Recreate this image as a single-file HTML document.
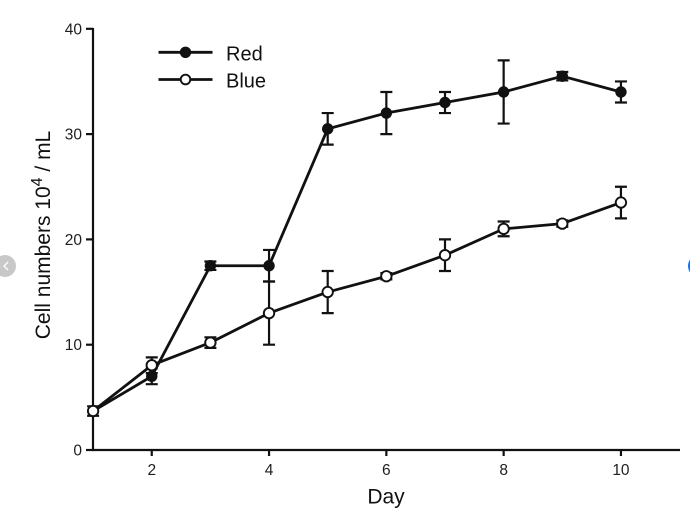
<!DOCTYPE html>
<html><head><meta charset="utf-8"><style>
html,body{margin:0;padding:0;background:#fff;}
svg{display:block;}
text{font-family:"Liberation Sans",Arial,sans-serif;}
</style></head><body>
<svg width="690" height="515" viewBox="0 0 690 515" xmlns="http://www.w3.org/2000/svg">
<rect width="690" height="515" fill="#fff"/>
<!-- UI artifacts -->
<circle cx="5" cy="266" r="11" fill="#c8c8c8"/>
<path d="M8 262 L4 266 L8 270" stroke="#fff" stroke-width="1.3" fill="none"/>
<circle cx="699" cy="266" r="11" fill="#1a73e8"/>

<!-- axes -->
<g stroke="#111" stroke-width="2.2" fill="none">
<line x1="93" y1="28" x2="93" y2="451"/>
<line x1="92" y1="450" x2="680" y2="450"/>
<line x1="86" y1="450" x2="93" y2="450"/>
<line x1="86" y1="344.7" x2="93" y2="344.7"/>
<line x1="86" y1="239.4" x2="93" y2="239.4"/>
<line x1="86" y1="134.1" x2="93" y2="134.1"/>
<line x1="86" y1="28.8" x2="93" y2="28.8"/>
<line x1="151.75" y1="450" x2="151.75" y2="456"/>
<line x1="269.05" y1="450" x2="269.05" y2="456"/>
<line x1="386.35" y1="450" x2="386.35" y2="456"/>
<line x1="503.65" y1="450" x2="503.65" y2="456"/>
<line x1="620.95" y1="450" x2="620.95" y2="456"/>
</g>
<g font-size="15.5" fill="#1e1e1e" text-anchor="end">
<text x="82" y="455.5">0</text>
<text x="82" y="350.2">10</text>
<text x="82" y="244.9">20</text>
<text x="82" y="139.6">30</text>
<text x="82" y="34.3">40</text>
</g>
<g font-size="15.5" fill="#1e1e1e" text-anchor="middle">
<text x="151.75" y="475">2</text>
<text x="269.05" y="475">4</text>
<text x="386.35" y="475">6</text>
<text x="503.65" y="475">8</text>
<text x="620.95" y="475">10</text>
</g>
<text x="386" y="503.5" font-size="21" fill="#111" text-anchor="middle">Day</text>
<text transform="translate(50,235) rotate(-90)" font-size="21" fill="#111" text-anchor="middle">Cell numbers 10<tspan font-size="16" dy="-8">4</tspan><tspan dy="8"> / mL</tspan></text>

<!-- Red series -->
<g stroke="#111" stroke-width="2.2" fill="none">
<path d="M93.1 406.3V415.8M87.1 406.3H99.1M87.1 415.8H99.1"/>
<path d="M151.75 368.39V384.19M145.75 368.39H157.75M145.75 384.19H157.75"/>
<path d="M210.4 261.51V269.94M204.4 261.51H216.4M204.4 269.94H216.4"/>
<path d="M269.05 249.93V281.52M263.05 249.93H275.05M263.05 281.52H275.05"/>
<path d="M327.7 113.04V144.63M321.7 113.04H333.7M321.7 144.63H333.7"/>
<path d="M386.35 91.98V134.1M380.35 91.98H392.35M380.35 134.1H392.35"/>
<path d="M445 91.98V113.04M439 91.98H451M439 113.04H451"/>
<path d="M503.65 60.39V123.57M497.65 60.39H509.65M497.65 123.57H509.65"/>
<path d="M562.3 71.97V80.4M556.3 71.97H568.3M556.3 80.4H568.3"/>
<path d="M620.95 81.45V102.51M614.95 81.45H626.95M614.95 102.51H626.95"/>
</g>
<polyline fill="none" stroke="#111" stroke-width="2.8" stroke-linejoin="round" points="93.1,411.04 151.75,376.29 210.4,265.73 269.05,265.73 327.7,128.84 386.35,113.04 445,102.51 503.65,91.98 562.3,76.19 620.95,91.98"/>
<g fill="#111">
<circle cx="93.1" cy="411.04" r="5.7"/>
<circle cx="151.75" cy="376.29" r="5.7"/>
<circle cx="210.4" cy="265.73" r="5.7"/>
<circle cx="269.05" cy="265.73" r="5.7"/>
<circle cx="327.7" cy="128.84" r="5.7"/>
<circle cx="386.35" cy="113.04" r="5.7"/>
<circle cx="445" cy="102.51" r="5.7"/>
<circle cx="503.65" cy="91.98" r="5.7"/>
<circle cx="562.3" cy="76.19" r="5.7"/>
<circle cx="620.95" cy="91.98" r="5.7"/>
</g>

<!-- Blue series -->
<g stroke="#111" stroke-width="2.2" fill="none">
<path d="M151.75 357.34V373.13M145.75 357.34H157.75M145.75 373.13H157.75"/>
<path d="M210.4 337.33V347.86M204.4 337.33H216.4M204.4 347.86H216.4"/>
<path d="M269.05 281.52V344.7M263.05 281.52H275.05M263.05 344.7H275.05"/>
<path d="M327.7 270.99V313.11M321.7 270.99H333.7M321.7 313.11H333.7"/>
<path d="M386.35 273.1V279.41M380.35 273.1H392.35M380.35 279.41H392.35"/>
<path d="M445 239.4V270.99M439 239.4H451M439 270.99H451"/>
<path d="M503.65 221.5V236.24M497.65 221.5H509.65M497.65 236.24H509.65"/>
<path d="M562.3 220.45V226.76M556.3 220.45H568.3M556.3 226.76H568.3"/>
<path d="M620.95 186.75V218.34M614.95 186.75H626.95M614.95 218.34H626.95"/>
</g>
<polyline fill="none" stroke="#111" stroke-width="2.8" stroke-linejoin="round" points="93.1,411.04 151.75,365.23 210.4,342.59 269.05,313.11 327.7,292.05 386.35,276.26 445,255.2 503.65,228.87 562.3,223.61 620.95,202.55"/>
<g fill="#fff" stroke="#111" stroke-width="1.9">
<circle cx="93.1" cy="411.04" r="5.2"/>
<circle cx="151.75" cy="365.23" r="5.2"/>
<circle cx="210.4" cy="342.59" r="5.2"/>
<circle cx="269.05" cy="313.11" r="5.2"/>
<circle cx="327.7" cy="292.05" r="5.2"/>
<circle cx="386.35" cy="276.26" r="5.2"/>
<circle cx="445" cy="255.2" r="5.2"/>
<circle cx="503.65" cy="228.87" r="5.2"/>
<circle cx="562.3" cy="223.61" r="5.2"/>
<circle cx="620.95" cy="202.55" r="5.2"/>
</g>

<!-- Legend -->
<line x1="158.5" y1="52.3" x2="212.5" y2="52.3" stroke="#111" stroke-width="2.8"/>
<circle cx="185.5" cy="52.3" r="5.7" fill="#111"/>
<line x1="158.5" y1="79.5" x2="212.5" y2="79.5" stroke="#111" stroke-width="2.8"/>
<circle cx="185.5" cy="79.5" r="4.8" fill="#fff" stroke="#111" stroke-width="1.9"/>
<text x="226" y="60.5" font-size="20" fill="#111">Red</text>
<text x="226" y="87.5" font-size="20" fill="#111">Blue</text>
</svg>
</body></html>
